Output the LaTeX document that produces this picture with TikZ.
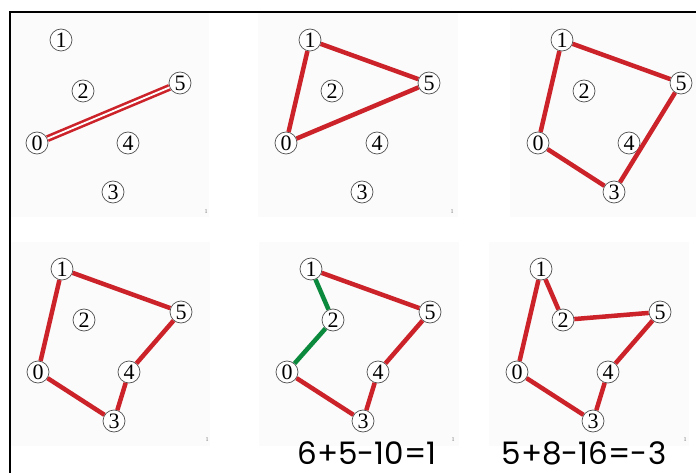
\documentclass[tikz,border=0pt]{standalone}
\usepackage{fontspec}
\setmainfont{Liberation Serif}
\newfontfamily\sumfont{Poppins}
\usepackage{xcolor}
\usepackage{tikz}
\usetikzlibrary{positioning}
\definecolor{edgered}{HTML}{CC2229}
\definecolor{edgegreen}{HTML}{0B8A3E}
\definecolor{vtxgray}{HTML}{505050}
\definecolor{panelbg}{HTML}{FBFBFB}

\tikzset{
  vtx/.style={circle, draw=vtxgray, line width=0.7pt, fill=white, inner sep=0pt,
    minimum size=22pt, font=\fontsize{22}{22}\selectfont},
  redge/.style={edgered, line width=4.5pt},
  gedge/.style={edgegreen, line width=4.5pt},
  dedge/.style={edgered, line width=2.6pt, double=white, double distance=1.8pt},
  panel/.style={fill=panelbg, draw=none},
  pagemark/.style={font=\fontsize{6}{6}\selectfont, text=black!55},
  sumtext/.style={font=\sumfont\fontsize{31}{31}\selectfont, anchor=base, inner sep=0pt}
}

% nodes of one panel, named #1-0 ... #1-5
\newcommand{\panelnodes}[1]{%
  \fill[panel] (-28,-130) rectangle (172,74);
  \foreach \n/\dx/\dy in {0/0/0, 1/24/-103, 2/46/-52, 5/143/-60, 4/91/0, 3/76/49}
    \node[vtx] (#1-\n) at (\dx,\dy) {\n};
}

\begin{document}
\begin{tikzpicture}[x=1pt, y=-1pt]
  \useasboundingbox (0,0) rectangle (696,473);
  \fill[white] (0,0) rectangle (696,473);

  % top row
  \begin{scope}[shift={(37,143)}]
    \panelnodes{pa}
    \node[pagemark] (pa-m) at (169,69) {1};
    \draw[dedge] (pa-0) -- (pa-5);
  \end{scope}
  \begin{scope}[shift={(286,143)}]
    \panelnodes{pb}
    \node[pagemark] (pb-m) at (166,69) {1};
    \draw[redge] (pb-0) -- (pb-1) -- (pb-5) -- (pb-0);
  \end{scope}
  \begin{scope}[shift={(538,143)}]
    \panelnodes{pc}
    \draw[redge] (pc-0) -- (pc-1) -- (pc-5) -- (pc-3) -- (pc-0);
  \end{scope}

  % bottom row
  \begin{scope}[shift={(38,372)}]
    \panelnodes{pd}
    \node[pagemark] (pd-m) at (169,68) {1};
    \draw[redge] (pd-0) -- (pd-1) -- (pd-5) -- (pd-4) -- (pd-3) -- (pd-0);
  \end{scope}
  \begin{scope}[shift={(287,372)}]
    \panelnodes{pe}
    \node[pagemark] (pe-m) at (166,68) {1};
    \draw[gedge] (pe-0) -- (pe-2) -- (pe-1);
    \draw[redge] (pe-1) -- (pe-5) -- (pe-4) -- (pe-3) -- (pe-0);
    \node[sumtext] (pe-sum) at (80,92) {6+5-10=1};
  \end{scope}
  \begin{scope}[shift={(517,372)}]
    \panelnodes{pf}
    \node[pagemark] (pf-m) at (168,68) {1};
    \draw[redge] (pf-0) -- (pf-1) -- (pf-2) -- (pf-5) -- (pf-4) -- (pf-3) -- (pf-0);
    \node[sumtext] (pf-sum) at (67,92) {5+8-16=-3};
  \end{scope}

  % frame
  \draw[black, line width=2pt] (10,480) -- (10,12) -- (700,12);
\end{tikzpicture}
\end{document}
